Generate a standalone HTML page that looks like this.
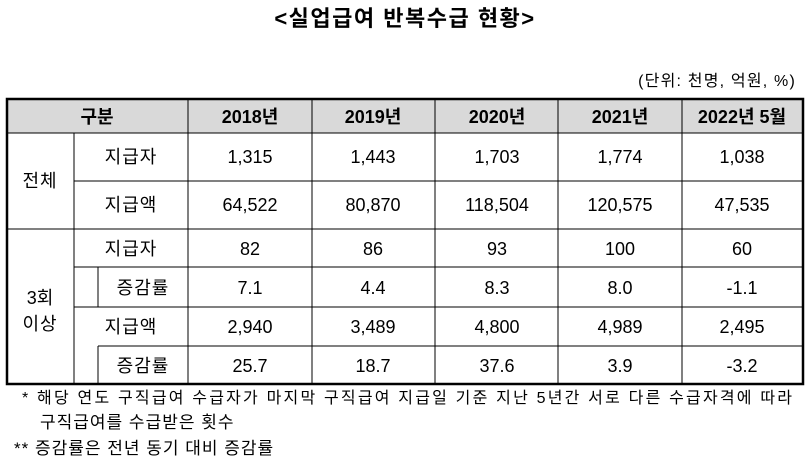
<!DOCTYPE html>
<html><head><meta charset="utf-8"><style>
body{margin:0;background:#fff;}
svg{display:block}
text{font-family:"Liberation Sans","Noto Sans CJK KR","NanumGothic",sans-serif;fill:#000}
</style></head><body>
<svg width="810" height="462" viewBox="0 0 810 462">
<text x="405" y="26" font-size="22" font-weight="bold" text-anchor="middle" letter-spacing="1.5">&lt;실업급여 반복수급 현황&gt;</text>
<text x="796" y="86" font-size="16" text-anchor="end" letter-spacing="1.2">(단위: 천명, 억원, %)</text>
<rect x="7" y="99" width="796" height="34" fill="#d9d9d9"/>
<g stroke="#000" stroke-width="1">
<line x1="7" y1="133" x2="803" y2="133"/>
<line x1="74" y1="181" x2="803" y2="181"/>
<line x1="7" y1="229" x2="803" y2="229"/>
<line x1="74" y1="267" x2="803" y2="267"/>
<line x1="98" y1="267" x2="98" y2="307"/>
<line x1="74" y1="307" x2="803" y2="307"/>
<line x1="98" y1="346" x2="803" y2="346"/>
<line x1="98" y1="346" x2="98" y2="384"/>
<line x1="74" y1="133" x2="74" y2="384"/>
<line x1="188" y1="99" x2="188" y2="384"/>
<line x1="312" y1="99" x2="312" y2="384"/>
<line x1="435" y1="99" x2="435" y2="384"/>
<line x1="558" y1="99" x2="558" y2="384"/>
<line x1="682" y1="99" x2="682" y2="384"/>
</g>
<rect x="7" y="99" width="796" height="285" fill="none" stroke="#000" stroke-width="2.5"/>
<g font-size="18" text-anchor="middle">
<text x="97" y="123" font-weight="bold">구분</text>
<text x="250" y="123" font-weight="bold">2018년</text>
<text x="373" y="123" font-weight="bold">2019년</text>
<text x="497" y="123" font-weight="bold">2020년</text>
<text x="620" y="123" font-weight="bold">2021년</text>
<text x="742" y="123" font-weight="bold">2022년 5월</text>
<text x="40" y="187" letter-spacing="1">전체</text>
<text x="131" y="163" letter-spacing="1">지급자</text>
<text x="131" y="211" letter-spacing="1">지급액</text>
<text x="40" y="304">3회</text>
<text x="40" y="330" letter-spacing="1">이상</text>
<text x="131" y="255" letter-spacing="1">지급자</text>
<text x="143" y="294" letter-spacing="1">증감률</text>
<text x="131" y="333" letter-spacing="1">지급액</text>
<text x="143" y="372" letter-spacing="1">증감률</text>
<g>
<text x="250" y="163">1,315</text><text x="373" y="163">1,443</text><text x="497" y="163">1,703</text><text x="620" y="163">1,774</text><text x="742" y="163">1,038</text>
<text x="250" y="211">64,522</text><text x="373" y="211">80,870</text><text x="497" y="211">118,504</text><text x="620" y="211">120,575</text><text x="742" y="211">47,535</text>
<text x="250" y="255">82</text><text x="373" y="255">86</text><text x="497" y="255">93</text><text x="620" y="255">100</text><text x="742" y="255">60</text>
<text x="250" y="294">7.1</text><text x="373" y="294">4.4</text><text x="497" y="294">8.3</text><text x="620" y="294">8.0</text><text x="742" y="294">-1.1</text>
<text x="250" y="333">2,940</text><text x="373" y="333">3,489</text><text x="497" y="333">4,800</text><text x="620" y="333">4,989</text><text x="742" y="333">2,495</text>
<text x="250" y="372">25.7</text><text x="373" y="372">18.7</text><text x="497" y="372">37.6</text><text x="620" y="372">3.9</text><text x="742" y="372">-3.2</text>
</g>
</g>
<g font-size="16">
<text x="22" y="403" textLength="770" lengthAdjust="spacing">* 해당 연도 구직급여 수급자가 마지막 구직급여 지급일 기준 지난 5년간 서로 다른 수급자격에 따라</text>
<text x="40" y="428" font-size="17" letter-spacing="1">구직급여를 수급받은 횟수</text>
<text x="14" y="454" font-size="17" letter-spacing="1">** 증감률은 전년 동기 대비 증감률</text>
</g>
</svg>
</body></html>
